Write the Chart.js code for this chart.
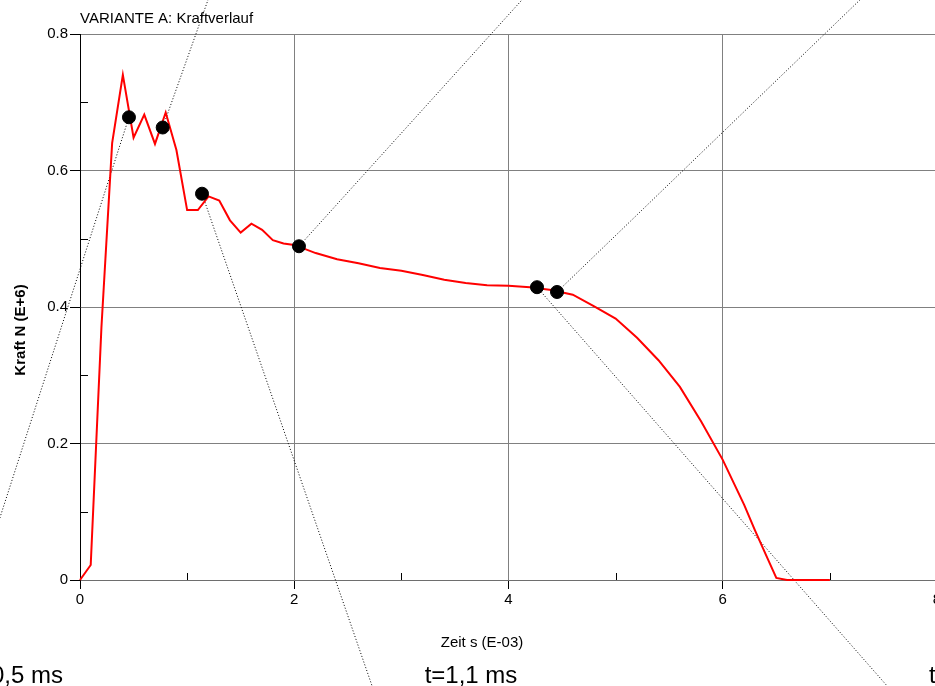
<!DOCTYPE html>
<html>
<head>
<meta charset="utf-8">
<script src="https://cdn.jsdelivr.net/npm/chart.js@4.4.1/dist/chart.umd.min.js"></script>
<style>
    html, body { margin: 0; padding: 0; background: #fff; overflow: hidden; }
    #wrap { position: absolute; left: 0; top: 0; width: 945px; height: 686px; }
</style>
</head>
<body>
<div id="wrap"><canvas id="kraftChart"></canvas></div>
<script>
// Kraftverlauf, Zeit in ms (E-03), Kraft in MN (E+6)
const zeit = [0, 0.1, 0.2, 0.3, 0.4, 0.5, 0.6, 0.7, 0.8, 0.9, 1.0, 1.1, 1.2, 1.3, 1.4, 1.5, 1.6, 1.7, 1.8, 1.9,
    2.0, 2.2, 2.4, 2.6, 2.8, 3.0, 3.2, 3.4, 3.6, 3.8, 4.0, 4.2, 4.4, 4.6, 4.8, 5.0, 5.2, 5.4, 5.6, 5.8,
    6.0, 6.2, 6.3, 6.4, 6.5, 6.6, 7.0];
const kraft = [0, 0.022, 0.37, 0.64, 0.74, 0.648, 0.682, 0.639, 0.685, 0.63, 0.542, 0.542, 0.562, 0.556, 0.527, 0.509, 0.522, 0.513, 0.498, 0.493,
    0.491, 0.479, 0.470, 0.464, 0.457, 0.453, 0.447, 0.440, 0.435, 0.432, 0.431, 0.429, 0.425, 0.418, 0.401, 0.383, 0.355, 0.322, 0.283, 0.232,
    0.176, 0.110, 0.073, 0.038, 0.003, 0, 0];

// markierte Zeitpunkte
const punktZeit = [0.457, 0.772, 1.139, 2.044, 4.266, 4.453];
const punktKraft = [0.678, 0.663, 0.566, 0.489, 0.429, 0.422];

// Endpunkte der gepunkteten Hinweislinien (je ab einem Punkt)
const linieEndeZeit = [-0.75, 1.195, 2.726, 4.126, 7.533, 7.281];
const linieEndeKraft = [0.09, 0.85, -0.155, 0.85, -0.155, 0.85];

const xTicks = [0, 2, 4, 6, 8];
const yTicks = [0, 0.2, 0.4, 0.6, 0.8];

const FONT = "'Liberation Sans', Arial, sans-serif";

const extras = {
    id: "extras",
    afterDraw(chart) {
        const { ctx, chartArea, scales } = chart;
        const x = scales.x, y = scales.y;
        ctx.save();

        // minor ticks inside the plot
        ctx.strokeStyle = "#000";
        ctx.lineWidth = 1;
        ctx.beginPath();
        for (let v = 1; v < 8; v += 2) {
            const px = Math.round(x.getPixelForValue(v)) + 0.5;
            ctx.moveTo(px, chartArea.bottom);
            ctx.lineTo(px, chartArea.bottom - 7);
        }
        for (let v = 0.1; v < 0.8; v += 0.2) {
            const py = Math.round(y.getPixelForValue(v)) + 0.5;
            ctx.moveTo(chartArea.left, py);
            ctx.lineTo(chartArea.left + 8, py);
        }
        ctx.stroke();

        ctx.fillStyle = "#000";
        ctx.textBaseline = "alphabetic";

        ctx.font = "15px " + FONT;
        ctx.textAlign = "left";
        ctx.fillText("VARIANTE A: Kraftverlauf", 80, 23);

        ctx.textAlign = "center";
        ctx.fillText("Zeit s (E-03)", 482, 647);

        ctx.save();
        ctx.translate(25, 330);
        ctx.rotate(-Math.PI / 2);
        ctx.font = "bold 15px " + FONT;
        ctx.fillText("Kraft N (E+6)", 0, 0);
        ctx.restore();

        ctx.font = "24px " + FONT;
        ctx.textAlign = "right";
        ctx.fillText("t=0,5 ms", 63, 683);
        ctx.textAlign = "center";
        ctx.fillText("t=1,1 ms", 471, 683);
        ctx.textAlign = "left";
        ctx.fillText("t", 929, 683);

        ctx.restore();
    }
};

document.addEventListener("DOMContentLoaded", function () {
    const ctx = document.getElementById("kraftChart").getContext("2d");

    const hinweisLinien = punktZeit.map((t, i) => ({
        type: "line",
        data: [{ x: t, y: punktKraft[i] }, { x: linieEndeZeit[i], y: linieEndeKraft[i] }],
        borderColor: "#000",
        borderWidth: 1,
        borderDash: [1, 2],
        pointRadius: 0,
        clip: false,
        order: 3
    }));

    new Chart(ctx, {
        type: "line",
        data: {
            datasets: [
                {
                    type: "scatter",
                    data: punktZeit.map((t, i) => ({ x: t, y: punktKraft[i] })),
                    backgroundColor: "#000",
                    borderColor: "#000",
                    pointRadius: 6.5,
                    clip: false,
                    order: 1
                },
                {
                    label: "Kraft",
                    data: zeit.map((t, i) => ({ x: t, y: kraft[i] })),
                    borderColor: "#ff0000",
                    borderWidth: 2,
                    pointRadius: 0,
                    tension: 0,
                    clip: false,
                    order: 2
                },
                ...hinweisLinien
            ]
        },
        options: {
            responsive: true,
            maintainAspectRatio: false,
            animation: false,
            layout: { padding: { top: 34, right: 8, left: 0, bottom: 0 } },
            plugins: {
                legend: { display: false },
                tooltip: { enabled: false }
            },
            scales: {
                x: {
                    type: "linear",
                    min: 0,
                    max: 8,
                    afterFit: s => { s.height = 106; },
                    afterBuildTicks: s => { s.ticks = xTicks.map(v => ({ value: v })); },
                    ticks: { font: { family: FONT, size: 15 }, color: "#000", padding: 2, maxRotation: 0 },
                    grid: { color: "#808080", tickColor: "#000", tickLength: 9 },
                    border: { color: "#6e6e6e", width: 1 }
                },
                y: {
                    min: 0,
                    max: 0.8,
                    afterFit: s => { s.width = 80; },
                    afterBuildTicks: s => { s.ticks = yTicks.map(v => ({ value: v })); },
                    ticks: { font: { family: FONT, size: 15 }, color: "#000", padding: 2 },
                    grid: { color: "#808080", tickColor: "#000", tickLength: 10 },
                    border: { color: "#000", width: 1 }
                }
            }
        },
        plugins: [extras]
    });
});
</script>
</body>
</html>
